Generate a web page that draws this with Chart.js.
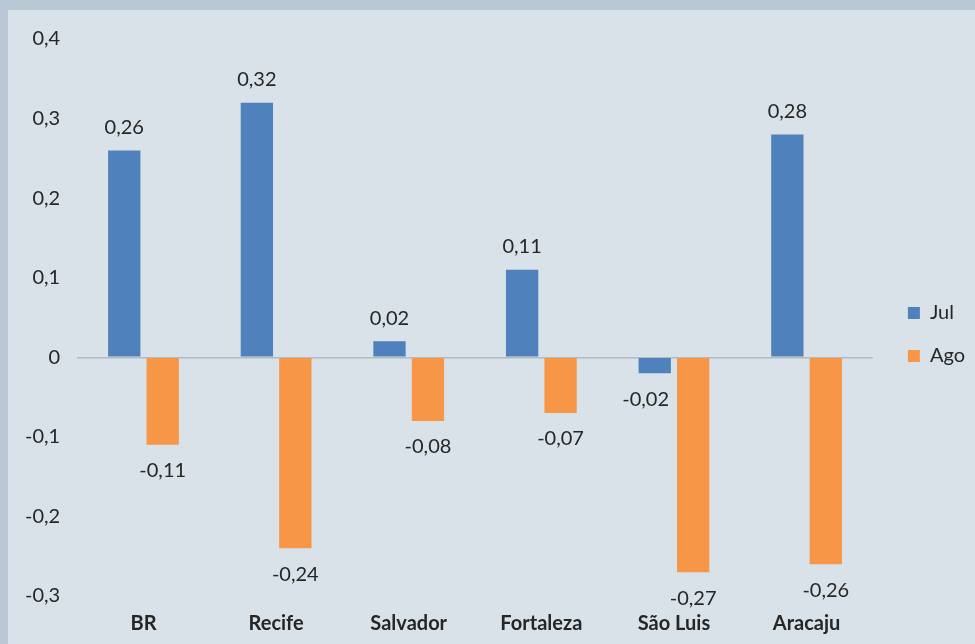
<!DOCTYPE html>
<html>
<head>
<meta charset="utf-8">
<script src="https://cdn.jsdelivr.net/npm/chart.js@4.4.1/dist/chart.umd.min.js"></script>
<style>
  html, body { margin: 0; padding: 0; }
  body { width: 975px; height: 644px; background: #b9c8d4; overflow: hidden; position: relative; }
  #wrap { position: absolute; left: 8px; top: 10px; width: 967px; height: 634px; background: #d8e2e8; }
</style>
</head>
<body>
<div id="wrap"><canvas id="chart"></canvas></div>
<script>
// values
const cities = ['BR', 'Recife', 'Salvador', 'Fortaleza', 'São Luis', 'Aracaju'];
const julValues = [0.26, 0.32, 0.02, 0.11, -0.02, 0.28];
const agoValues = [-0.11, -0.24, -0.08, -0.07, -0.27, -0.26];
const yTicks = [-0.3, -0.2, -0.1, 0, 0.1, 0.2, 0.3, 0.4];

const fmt = v => String(Math.round(v * 100) / 100).replace('.', ',');

// value labels above / below each bar, nudged off a neighbouring bar when they collide
const barLabels = {
    id: 'barLabels',
    afterDatasetsDraw(chart) {
        const ctx = chart.ctx;
        ctx.save();
        ctx.font = '20px Lato';
        ctx.fillStyle = '#262626';
        ctx.textAlign = 'center';
        ctx.textBaseline = 'middle';
        const metas = chart.data.datasets.map((ds, i) => chart.getDatasetMeta(i));
        chart.data.datasets.forEach((ds, i) => {
            metas[i].data.forEach((bar, j) => {
                const v = ds.data[j];
                const y = v >= 0 ? bar.y - 23 : bar.y + 26;
                let x = bar.x;
                const half = ctx.measureText(fmt(v)).width / 2;
                const next = metas[i + 1] && metas[i + 1].data[j];
                if (next && v < 0 && next.base < y) {
                    const limit = next.x - next.width / 2 - 8;
                    if (x + half > limit) x = limit - half;
                }
                ctx.fillText(fmt(v), x, y);
            });
        });
        ctx.restore();
    }
};

new Chart(document.getElementById('chart'), {
    type: 'bar',
    data: {
        labels: cities,
        datasets: [
            { label: 'Jul', data: julValues, backgroundColor: '#4f81bd' },
            { label: 'Ago', data: agoValues, backgroundColor: '#f79646' }
        ]
    },
    options: {
        responsive: true,
        maintainAspectRatio: false,
        animation: false,
        categoryPercentage: 0.58,
        barPercentage: 0.84,
        layout: { padding: { top: 15, left: 0, bottom: 0, right: 0 } },
        plugins: {
            legend: {
                position: 'right',
                labels: {
                    boxWidth: 12,
                    boxHeight: 12,
                    padding: 23,
                    color: '#262626',
                    font: { family: 'Lato', size: 20 }
                }
            },
            tooltip: { enabled: false }
        },
        scales: {
            x: {
                grid: { display: false },
                border: { display: false },
                ticks: {
                    color: '#262626',
                    padding: 8,
                    font: { family: 'Lato', size: 20, weight: 'bold' }
                }
            },
            y: {
                min: -0.3,
                max: 0.4,
                afterBuildTicks: axis => { axis.ticks = yTicks.map(v => ({ value: v })); },
                border: { display: false },
                grid: {
                    drawTicks: false,
                    color: c => (c.tick && c.tick.value === 0) ? '#b3bac1' : 'rgba(0,0,0,0)',
                    lineWidth: 1.5
                },
                ticks: {
                    color: '#262626',
                    padding: 17,
                    font: { family: 'Lato', size: 20 },
                    callback: v => fmt(v)
                }
            },
            // empty right-hand axis, only keeps a gap between the plot and the legend
            gap: {
                position: 'right',
                grid: { display: false },
                border: { display: false },
                ticks: { display: false },
                afterFit: s => { s.width = 12; }
            }
        }
    },
    plugins: [barLabels]
});
</script>
</body>
</html>
